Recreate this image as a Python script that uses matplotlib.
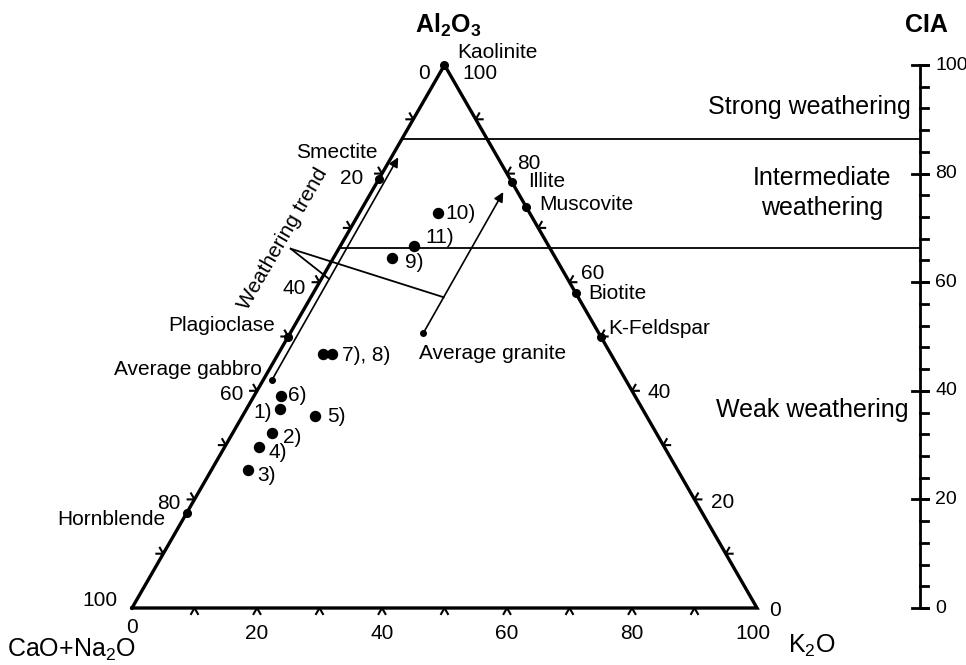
import numpy as np
import matplotlib
matplotlib.use('Agg')
import matplotlib.pyplot as plt

plt.rcParams['font.family'] = ['Liberation Sans', 'DejaVu Sans']
plt.rcParams['mathtext.fontset'] = 'custom'
plt.rcParams['mathtext.rm'] = 'Liberation Sans'
plt.rcParams['mathtext.it'] = 'Liberation Sans:italic'
plt.rcParams['mathtext.bf'] = 'Liberation Sans:bold'

# samples, A = Al2O3, K = K2O (molar %), CN = rest
sample_names = ['1)', '2)', '3)', '4)', '5)', '6)', '7)', '8)', '9)', '10)', '11)']
sample_A = [36.7, 32.2, 25.4, 29.7, 35.4, 39.0, 46.8, 46.8, 64.5, 72.7, 66.7]
sample_K = [5.3, 6.3, 5.9, 5.5, 11.6, 4.3, 7.2, 8.6, 9.4, 12.6, 11.8]

mineral_names = ['Kaolinite', 'Smectite', 'Illite', 'Muscovite', 'Biotite',
                 'K-Feldspar', 'Plagioclase', 'Hornblende']
mineral_A = [100, 79.0, 78.5, 73.9, 58.0, 50.0, 50.0, 17.5]
mineral_K = [0, 0, 21.5, 26.1, 42.0, 50.0, 0, 0]

rock_names = ['Average gabbro', 'Average granite']
rock_A = [42.0, 50.6]
rock_K = [1.4, 21.3]

# where the two weathering trend arrows end
trend_end_A = [83.0, 76.6]
trend_end_K = [1.1, 21.1]

cia_limits = [86.4, 66.3]
cia_ticks = [0, 20, 40, 60, 80, 100]
zones = ['Strong weathering', 'Intermediate\nweathering', 'Weak weathering']

S3 = np.sqrt(3) / 2


def tern(A, K):
    A = np.asarray(A, float)
    K = np.asarray(K, float)
    return K + A / 2, A * S3


fig = plt.figure(figsize=(9.66, 6.65), dpi=100)
ax = fig.add_axes([0, 0, 1, 1])
ax.set_xlim(-21.12, 133.44)
ax.set_ylim(-9.09, 96.97)
ax.axis('off')

SMALL = 15
BIG = 18

# triangle
ax.plot([0, 100, 50, 0], [0, 0, 100 * S3, 0], color='k', lw=2.4,
        solid_joinstyle='miter', zorder=3)

# chevron ticks every 10 %
L = 1.1
for v in range(10, 100, 10):
    x, y = v, 0
    ax.plot([x - 0.5 * L, x, x + 0.5 * L], [y - S3 * L, y, y - S3 * L], color='k', lw=1.5)
    x, y = tern(100 - v, 0)
    ax.plot([x - L, x, x - 0.5 * L], [y, y, y + S3 * L], color='k', lw=1.5)
    x, y = tern(v, 100 - v)
    ax.plot([x + L, x, x + 0.5 * L], [y, y, y + S3 * L], color='k', lw=1.5)


def lab(s, A, K, dx, dy, ha='left', size=SMALL):
    ax.annotate(s, tern(A, K), xytext=(dx, -dy), textcoords='offset pixels',
                ha=ha, va='center', fontsize=size)


# left side (CaO+Na2O) labels
left_vals = [0, 20, 40, 60, 80, 100]
left_off = [(-15, 8), (-19, 5), (-14, 6), (-14, 4), (-14, 4), (-15, -8)]
for v, (dx, dy) in zip(left_vals, left_off):
    lab(str(v), 100 - v, 0, dx, dy, ha='right')

# right side (Al2O3) labels
right_vals = [100, 80, 60, 40, 20, 0]
right_off = [(18, 8), (10, -10), (12, -9), (15, 2), (17, 3), (12, 2)]
for v, (dx, dy) in zip(right_vals, right_off):
    lab(str(v), v, 100 - v, dx, dy)

# bottom (K2O) labels
for v in range(0, 101, 20):
    dy = 19 if v == 0 else 25
    dx = -4 if v == 100 else 0
    lab(str(v), 0, v, dx, dy, ha='center')

# CIA boundary lines, from the A-CN edge to the CIA scale
cia_x = 126.1
for c in cia_limits:
    y = c * S3
    ax.plot([y / np.tan(np.pi / 3), cia_x], [y, y], color='k', lw=1.3)

# CIA scale
ax.plot([cia_x, cia_x], [0, 100 * S3], color='k', lw=2.0)
for c in range(0, 101, 4):
    ax.plot([cia_x, cia_x + 1.3], [c * S3, c * S3], color='k', lw=2.0)
for c in cia_ticks:
    ax.plot([cia_x - 1.3, cia_x + 1.3], [c * S3, c * S3], color='k', lw=2.0)
    ax.text(cia_x + 2.4, c * S3, str(c), ha='left', va='center', fontsize=14)

# weathering trends
rx, ry = tern(rock_A, rock_K)
ex, ey = tern(trend_end_A, trend_end_K)
for i in range(2):
    ax.annotate('', xy=(ex[i], ey[i]), xytext=(rx[i], ry[i]),
                arrowprops=dict(arrowstyle='-|>', lw=1.2, color='k',
                                mutation_scale=14, shrinkA=0, shrinkB=0))

# pointer from the trend label to both arrows
ox, oy = 25.4, 57.3
for i, t in zip(range(2), [0.453, 0.255]):
    px = rx[i] + t * (ex[i] - rx[i])
    py = ry[i] + t * (ey[i] - ry[i])
    ax.plot([ox, px], [oy, py], color='k', lw=1.3)
ax.text(24.2, 58.9, 'Weathering trend', rotation=60, ha='center', va='center',
        fontsize=SMALL, rotation_mode='anchor')

# rocks
ax.plot(rx, ry, 'o', color='k', ms=4, zorder=4)
lab(rock_names[0], rock_A[0], rock_K[0], -10, -10, ha='right')
lab(rock_names[1], rock_A[1], rock_K[1], -4, 20)

# minerals
mx, my = tern(mineral_A, mineral_K)
ax.plot(mx, my, 'o', color='k', ms=5.5, zorder=4)
mineral_off = [(13, -13, 'left'), (-1, -27, 'right'), (16, 0, 'left'),
               (13, -2, 'left'), (12, 0, 'left'), (7, -8, 'left'),
               (-13, -11, 'right'), (-21, 7, 'right')]
for n, a, k, (dx, dy, ha) in zip(mineral_names, mineral_A, mineral_K, mineral_off):
    lab(n, a, k, dx, dy, ha=ha)

# samples
sx, sy = tern(sample_A, sample_K)
ax.plot(sx, sy, 'o', color='k', ms=7.2, zorder=4)
sample_off = {'1)': (-8, 4, 'right'), '2)': (11, 4, 'left'), '3)': (9, 5, 'left'),
              '4)': (9, 6, 'left'), '5)': (12, 1, 'left'), '6)': (7, -1, 'left'),
              '9)': (13, 5, 'left'), '10)': (7, 0, 'left'), '11)': (11, -8, 'left')}
for n, a, k in zip(sample_names, sample_A, sample_K):
    if n in sample_off:
        dx, dy, ha = sample_off[n]
        lab(n, a, k, dx, dy, ha=ha)
lab('7), 8)', sample_A[7], sample_K[7], 10, 2)

# zone names next to the CIA scale
for s, xp, yp, ha in [(zones[0], 911, 107, 'right'), (zones[1], 822, 193, 'center'),
                      (zones[2], 909, 410, 'right')]:
    fig.text(xp / 966, 1 - yp / 665, s, fontsize=BIG, ha=ha, va='center',
             multialignment='center', linespacing=1.35)

# corner names
fig.text(448 / 966, 1 - 25 / 665, r'Al$_\mathbf{2}$O$_\mathbf{3}$', fontsize=BIG,
         fontweight='bold', ha='center', va='center')
fig.text(926 / 966, 1 - 25 / 665, 'CIA', fontsize=BIG, fontweight='bold',
         ha='center', va='center')
fig.text(7 / 966, 1 - 650 / 665, r'CaO+Na$_2$O', fontsize=BIG, ha='left', va='center')
fig.text(788 / 966, 1 - 646 / 665, r'K$_2$O', fontsize=BIG, ha='left', va='center')

fig.savefig('out.png', dpi=100)
